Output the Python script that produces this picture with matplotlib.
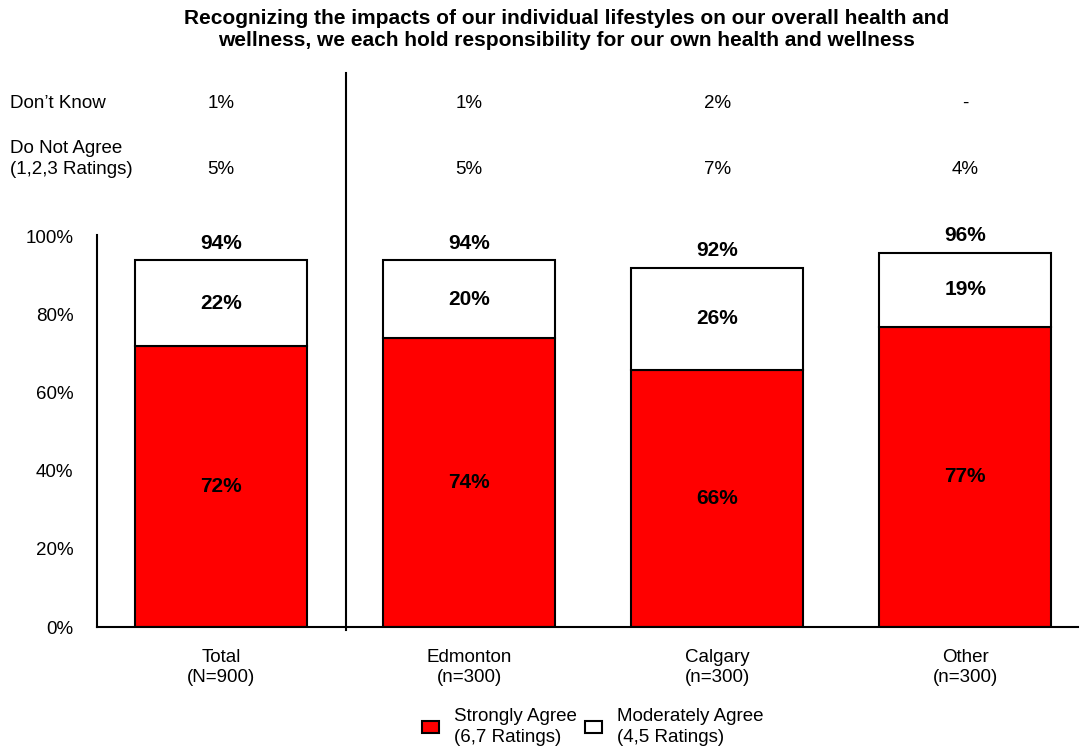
import matplotlib
matplotlib.use("Agg")
import matplotlib.pyplot as plt
from matplotlib.patches import Patch
from matplotlib.lines import Line2D
from matplotlib.transforms import blended_transform_factory
import numpy as np

plt.rcParams['font.family'] = ['Liberation Sans', 'DejaVu Sans']

categories = ["Total\n(N=900)", "Edmonton\n(n=300)", "Calgary\n(n=300)", "Other\n(n=300)"]
strongly = [72, 74, 66, 77]
moderately = [22, 20, 26, 19]
totals = [94, 94, 92, 96]
dont_know = ["1%", "1%", "2%", "-"]
do_not_agree = ["5%", "5%", "7%", "4%"]
yticks = [0, 20, 40, 60, 80, 100]
title = ("Recognizing the impacts of our individual lifestyles on our overall health and\n"
         "wellness, we each hold responsibility for our own health and wellness")

W, H = 1080, 748
FS = 13.5
fig = plt.figure(figsize=(W / 100, H / 100), dpi=100)
ax = fig.add_axes([97 / W, (H - 627) / H, (1078 - 97) / W, (627 - 235) / H])

x = np.arange(len(categories))
width = 0.695
ax.bar(x, strongly, width, color="#FF0000", edgecolor="black", linewidth=1.5)
ax.bar(x, moderately, width, bottom=strongly, color="white", edgecolor="black", linewidth=1.5)

for i in range(len(x)):
    ax.text(x[i], strongly[i] / 2, f"{strongly[i]}%", ha="center", va="center",
            fontsize=15, fontweight="bold")
    ax.text(x[i], strongly[i] + moderately[i] / 2, f"{moderately[i]}%", ha="center",
            va="center", fontsize=15, fontweight="bold")
    ax.text(x[i], totals[i] + 4.4, f"{totals[i]}%", ha="center", va="center",
            fontsize=15, fontweight="bold")

ax.set_xlim(-0.5, 3.455)
ax.set_ylim(0, 100.5)
ax.set_yticks(yticks)
ax.set_yticklabels([f"{v}%" for v in yticks], fontsize=FS, va="top")
for lbl in ax.get_yticklabels():
    lbl.set_verticalalignment("center_baseline")
ax.set_xticks(x)
ax.set_xticklabels(categories, fontsize=FS, linespacing=1.2)
ax.tick_params(axis="both", length=0)
ax.tick_params(axis="y", pad=17)
ax.tick_params(axis="x", pad=16)
for s in ["top", "right"]:
    ax.spines[s].set_visible(False)
ax.spines["left"].set_linewidth(1.5)
ax.spines["bottom"].set_linewidth(1.5)

# top table
tr = blended_transform_factory(ax.transData, fig.transFigure)
fig.text(10 / W, (H - 103) / H, "Don\u2019t Know", fontsize=FS, va="center", ha="left")
fig.text(10 / W, (H - 159) / H, "Do Not Agree\n(1,2,3 Ratings)", fontsize=FS, va="center",
         ha="left", linespacing=1.3)
for i in range(len(x)):
    ax.text(x[i], (H - 103) / H, dont_know[i], transform=tr, ha="center",
            va="center", fontsize=FS, clip_on=False)
    ax.text(x[i], (H - 170) / H, do_not_agree[i], transform=tr, ha="center",
            va="center", fontsize=FS, clip_on=False)

# separator line
fig.add_artist(Line2D([346 / W, 346 / W], [(H - 630) / H, (H - 73) / H],
                      color="black", linewidth=1.5))

fig.text(0.525, (H - 29) / H, title, ha="center", va="center", fontsize=15,
         fontweight="bold", linespacing=1.2)

handles = [Patch(facecolor="#FF0000", edgecolor="black", linewidth=1.5),
           Patch(facecolor="white", edgecolor="black", linewidth=1.5)]
labels = ["Strongly Agree\n(6,7 Ratings)", "Moderately Agree\n(4,5 Ratings)"]
leg = fig.legend(handles, labels, loc="center", bbox_to_anchor=(593 / W, (H - 727) / H),
                 ncol=2, frameon=False, fontsize=FS, handlelength=0.9, handleheight=0.55,
                 handletextpad=0.8, columnspacing=0.45)
for t in leg.get_texts():
    t.set_linespacing(1.3)

fig.savefig("out.png", dpi=100)
